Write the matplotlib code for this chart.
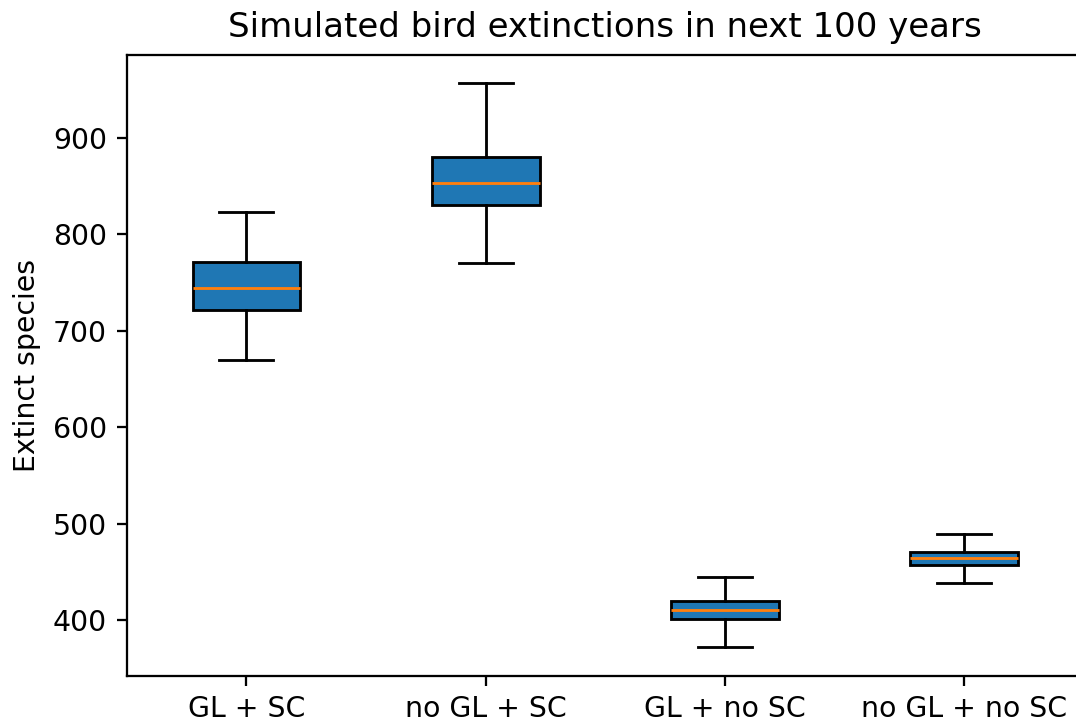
import matplotlib
matplotlib.use("Agg")
import matplotlib.pyplot as plt

labels = ["GL + SC", "no GL + SC", "GL + no SC", "no GL + no SC"]
whislo = [670, 770, 372, 439]
q1 = [721, 830, 401, 457]
med = [744, 853, 411, 464]
q3 = [771, 880, 420, 471]
whishi = [823, 957, 445, 489]

stats = []
for i, lab in enumerate(labels):
    stats.append(dict(label=lab, whislo=whislo[i], q1=q1[i], med=med[i],
                      q3=q3[i], whishi=whishi[i], fliers=[]))

DPI = 204
fig = plt.figure(figsize=(1076/DPI, 724/DPI), dpi=DPI)
left, right, top, bottom = 126.7, 1084.0, 54.5, 675.5
ax = fig.add_axes([left/1076, 1-bottom/724, (right-left)/1076, (bottom-top)/724])
ax.bxp(stats, widths=0.45, patch_artist=True, showfliers=False)
ax.set_title("Simulated bird extinctions in next 100 years")
ax.set_ylabel("Extinct species")
fig.savefig("out.png", dpi=DPI)
